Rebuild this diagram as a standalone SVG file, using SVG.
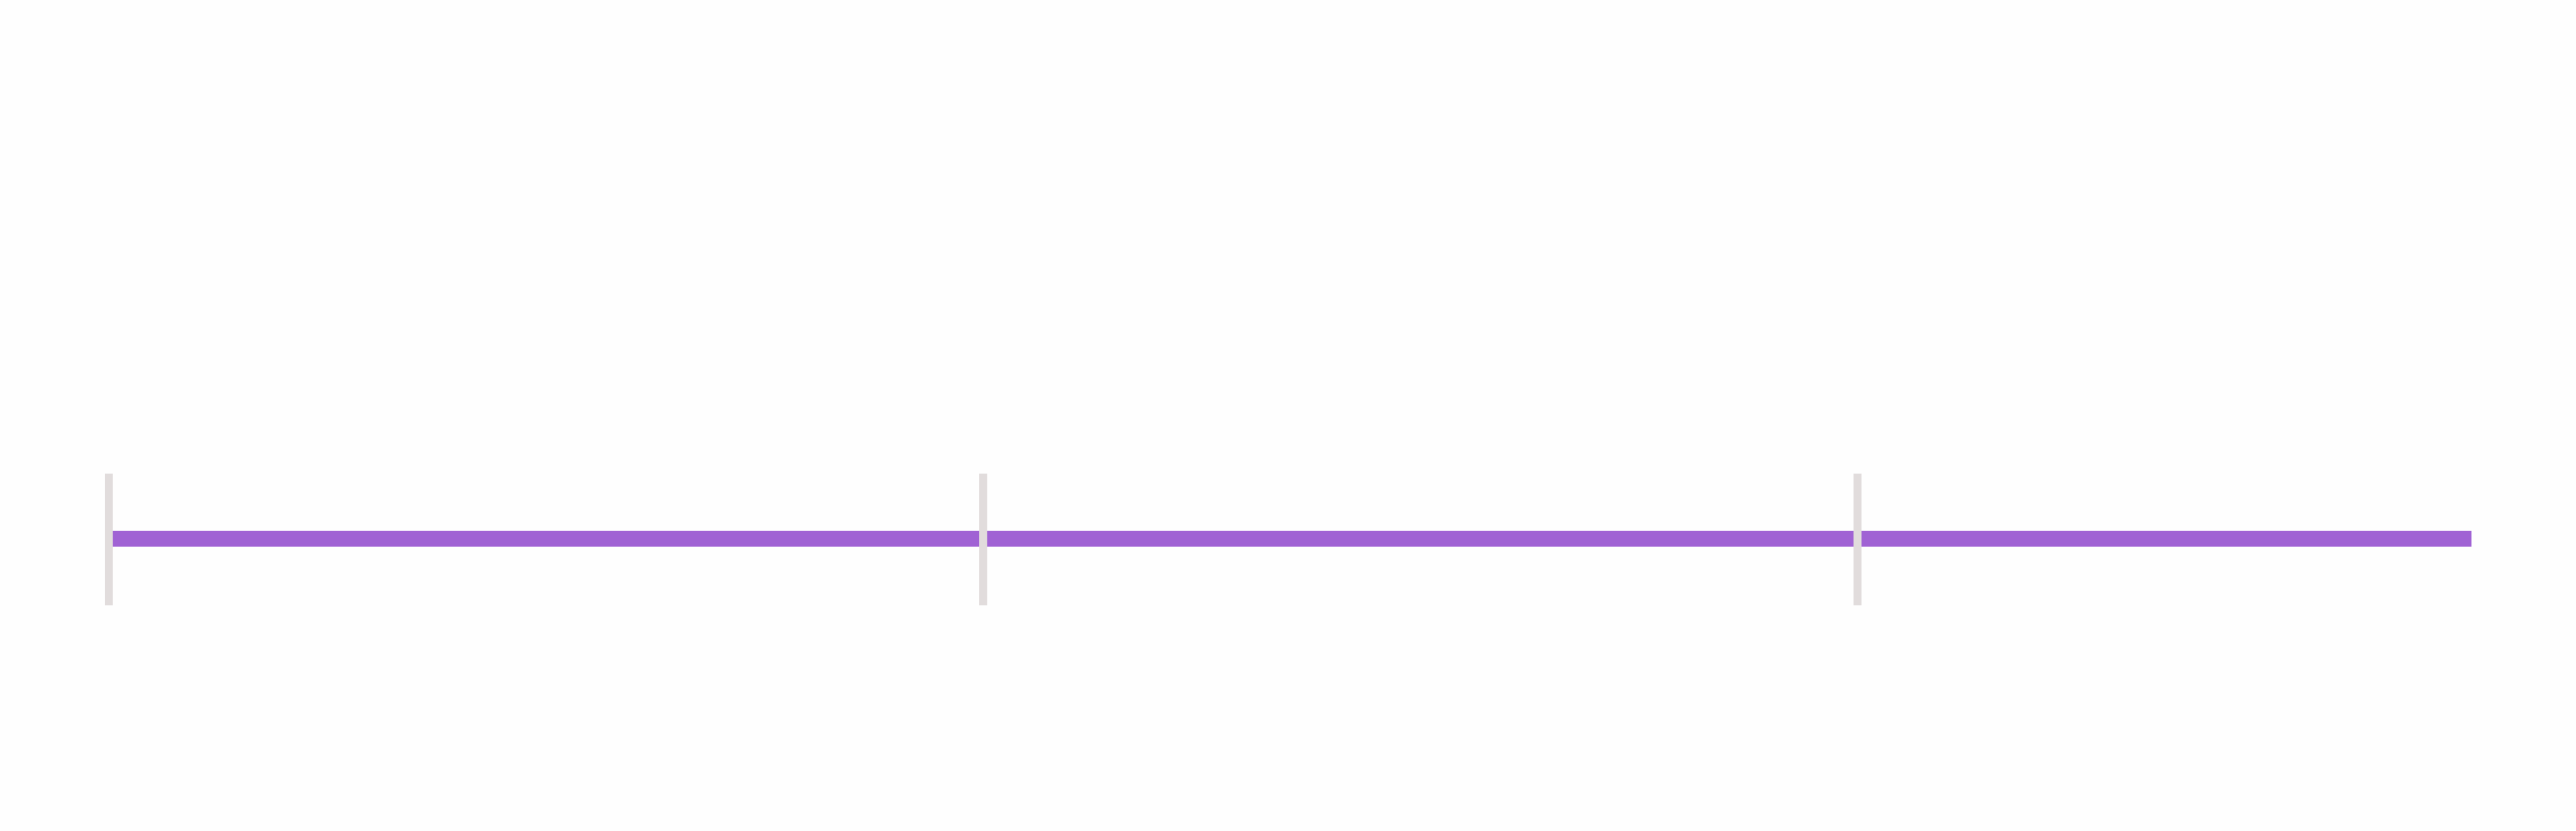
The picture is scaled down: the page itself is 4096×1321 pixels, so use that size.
<svg xmlns="http://www.w3.org/2000/svg" width="4096" height="1321" viewBox="0 0 4096 1321">
  <style>
    .tick { fill: #E1DCDC; }
    .bar { fill: #A062D4; }
  </style>
  <rect x="0" y="0" width="4096" height="1321" fill="#FEFEFE"/>
  <g id="connectors">
    <rect class="bar" x="170" y="843.8" width="3759.7" height="25.1"/>
  </g>
  <g id="tick-1">
    <rect class="tick" x="166.9" y="752.8" width="12.55" height="209.5"/>
  </g>
  <g id="tick-2">
    <rect class="tick" x="1557.1" y="752.8" width="12.55" height="209.5"/>
  </g>
  <g id="tick-3">
    <rect class="tick" x="2947.3" y="752.8" width="12.55" height="209.5"/>
  </g>
</svg>
